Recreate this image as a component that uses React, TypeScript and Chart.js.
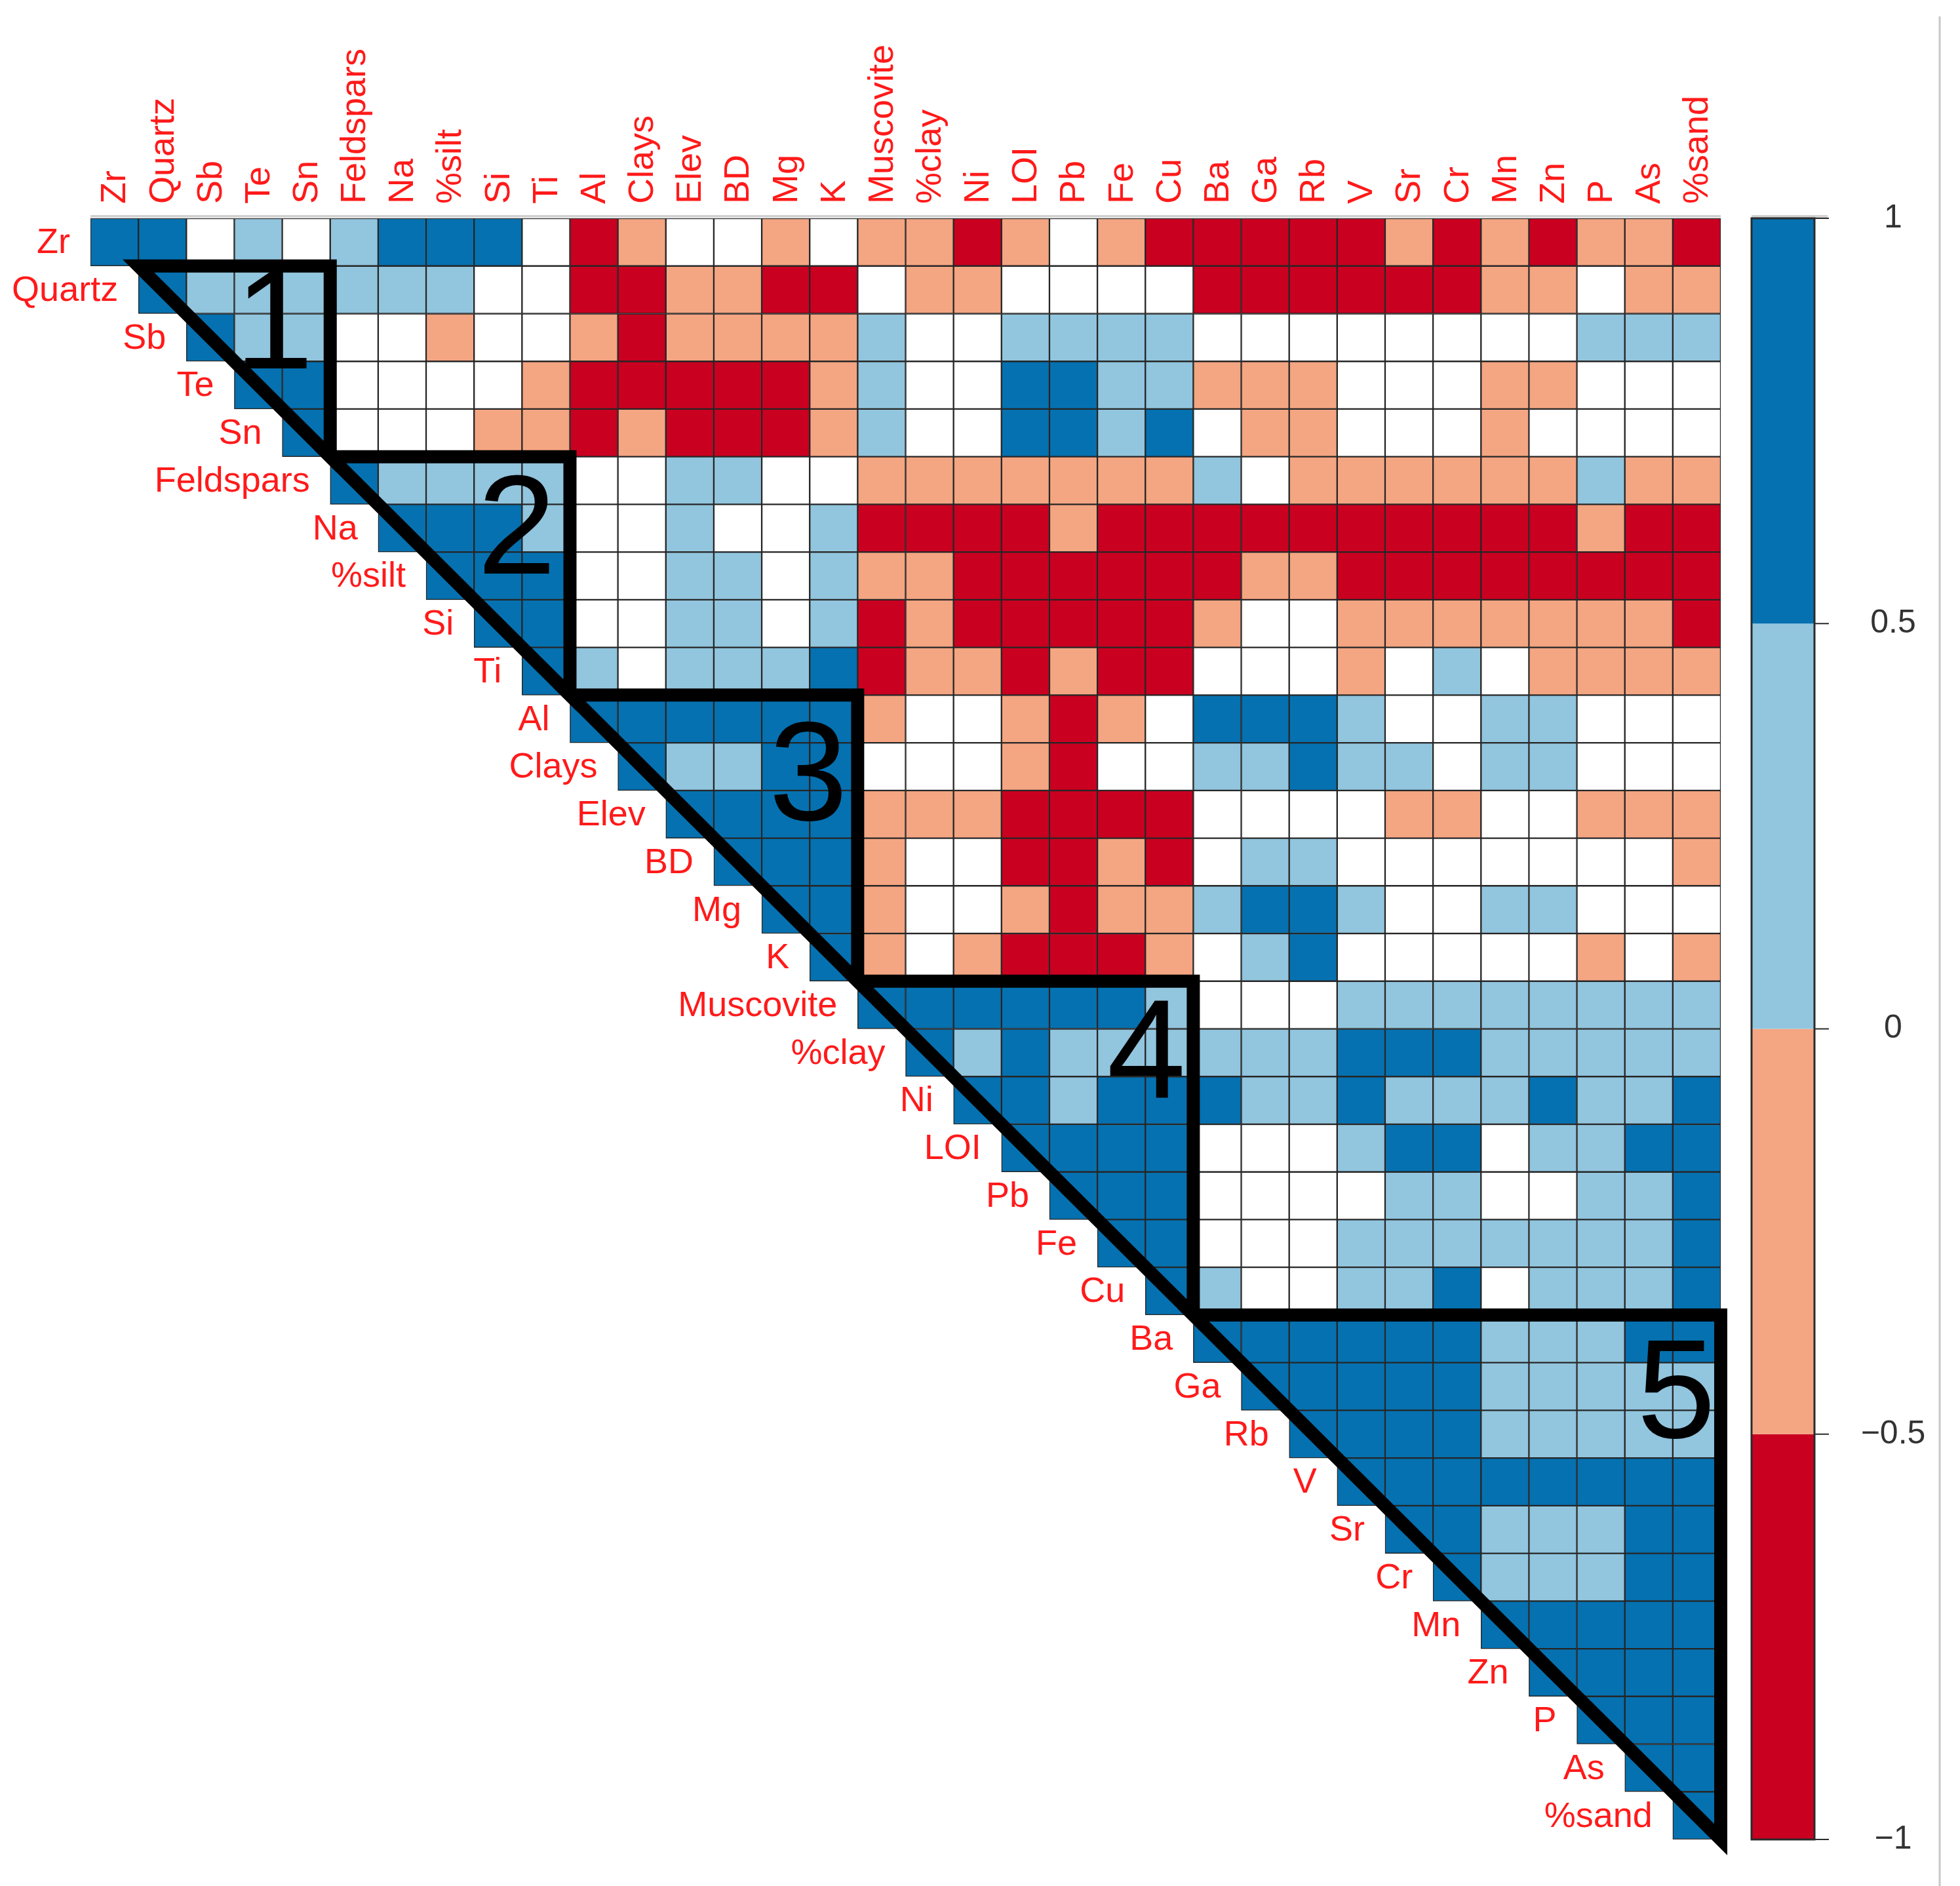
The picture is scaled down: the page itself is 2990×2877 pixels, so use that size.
import { useEffect, useRef } from 'react';
import { Chart, registerables } from 'chart.js';

Chart.register(...registerables);

// ---- data ----
const variables = [
  'Zr', 'Quartz', 'Sb', 'Te', 'Sn', 'Feldspars', 'Na', '%silt', 'Si', 'Ti',
  'Al', 'Clays', 'Elev', 'BD', 'Mg', 'K', 'Muscovite', '%clay', 'Ni', 'LOI',
  'Pb', 'Fe', 'Cu', 'Ba', 'Ga', 'Rb', 'V', 'Sr', 'Cr', 'Mn', 'Zn', 'P', 'As', '%sand',
];

// Correlation class of each upper-triangle row, starting at the diagonal.
// D: 0.5..1   L: 0..0.5   W: not significant   S: -0.5..0   R: -1..-0.5
const corrRows = [
  'DDWLWLDDDWRSWWSWS' + 'SRSWSRRRRRSRSRSSR',
  'DLLLLLLWWRRSSRRW' + 'SSWWWWRRRRRRSSWSS',
  'DLLWWSWWSRSSSSL' + 'WWLLLLWWWWWWWWLLL',
  'DDWWWWSRRRRRSL' + 'WWDDLLSSSWWWSSWWW',
  'DWWWSSRSRRRSL' + 'WWDDLDWSSWWWSWWWW',
  'DLLLLWWLLWWS' + 'SSSSSSLWSSSSSSLSS',
  'DDDLWWLWWLR' + 'RRRSRRRRRRRRRRSRR',
  'DDDWWLLWLS' + 'SRRRRRRSSRRRRRRRR',
  'DDWWLLWLR' + 'SRRRRRSWWSSSSSSSR',
  'DLWLLLDR' + 'SSRSRRWWWSWLWSSSS',
  'DDDDDDS' + 'WWSRSWDDDLWWLLWWW',
  'DLLDDW' + 'WWSRWWLLDLLWLLWWW',
  'DDDDS' + 'SSRRRRWWWWSSWWSSS',
  'DDDS' + 'WWRRSRWLLWWWWWWWS',
  'DDS' + 'WWSRSSLDDLWWLLWWW',
  'DS' + 'WSRRRSWLDWWWWWSWS',
  'D' + 'DDDDDLWWWLLLLLLLL',
  'DLDLLLLLLDDDLLLLL',
  'DDLDDDLLDLLLDLLD',
  'DDDDWWWLDDWLLDD',
  'DDDWWWWLLWWLLD',
  'DDWWWLLLLLLLD',
  'DLWWLLDWLLLD',
  'DDDDDDLLLDD',
  'DDDDDLLLLL',
  'DDDDLLLLL',
  'DDDDDDDD',
  'DDLLLDD',
  'DLLLDD',
  'DDDDD',
  'DDDD',
  'DDD',
  'DD',
  'D',
];

// cluster blocks (variable index where each block starts / ends)
const blockBounds = [1, 5, 10, 16, 23, 34];
const blockNames = ['1', '2', '3', '4', '5'];

// colour bar
const colorbarBreaks = [-1, -0.5, 0, 0.5, 1];
const colorbarTickLabels = ['\u22121', '\u22120.5', '0', '0.5', '1'];
const colorbarClasses = ['R', 'S', 'L', 'D'];

// ---- style ----
const classColor: Record<string, string> = {
  D: '#0571B0',
  L: '#92C5DE',
  W: '#FFFFFF',
  S: '#F4A582',
  R: '#CA0020',
};
const LABEL_FONT = '54px "Liberation Sans", Arial, sans-serif';
const LABEL_COLOR = '#FF1A1A';
// block number positions in grid units (column, row)
const blockNumberPos = [
  [3.83, 2.25],
  [8.89, 6.55],
  [14.97, 11.72],
  [22.02, 17.55],
  [33.07, 24.67],
];

const W = 2990;
const H = 2877;

const overlayPlugin = {
  id: 'corrOverlay',
  afterDatasetsDraw(chart: any) {
    const ctx: CanvasRenderingContext2D = chart.ctx;
    const xs = chart.scales.x;
    const ys = chart.scales.y;
    const cb = chart.scales.cb;
    const area = chart.chartArea;
    const step = xs.getPixelForValue(1) - xs.getPixelForValue(0);
    const gx = (c: number) => xs.getPixelForValue(0) - step / 2 + c * step;
    const gy = (r: number) => ys.getPixelForValue(r);

    ctx.save();

    // light frame line above grid and colour bar
    ctx.strokeStyle = '#d2d2d2';
    ctx.lineWidth = 4;
    ctx.beginPath();
    ctx.moveTo(area.left, area.top - 3);
    ctx.lineTo(area.right, area.top - 3);
    ctx.stroke();

    // block triangles
    ctx.strokeStyle = '#000';
    ctx.lineWidth = 20;
    ctx.lineJoin = 'miter';
    ctx.miterLimit = 10;
    for (let k = 0; k < blockBounds.length - 1; k++) {
      const a = blockBounds[k];
      const b = blockBounds[k + 1];
      ctx.beginPath();
      ctx.moveTo(gx(a), gy(a));
      ctx.lineTo(gx(b), gy(a));
      ctx.lineTo(gx(b), gy(b));
      ctx.closePath();
      ctx.stroke();
    }

    // block numbers
    ctx.fillStyle = '#000';
    ctx.font = '216px "Liberation Sans", Arial, sans-serif';
    ctx.textAlign = 'center';
    ctx.textBaseline = 'middle';
    blockNames.forEach((n, k) => {
      const [c, r] = blockNumberPos[k];
      ctx.fillText(n, gx(c), gy(r) + 6);
    });

    // row labels (along the diagonal)
    ctx.fillStyle = LABEL_COLOR;
    ctx.font = LABEL_FONT;
    ctx.textAlign = 'right';
    ctx.textBaseline = 'middle';
    variables.forEach((v, r) => {
      ctx.fillText(v, gx(r) - 31, gy(r + 0.5) + 2);
    });

    // column labels (top, vertical)
    ctx.textAlign = 'left';
    variables.forEach((v, c) => {
      ctx.save();
      ctx.translate(gx(c + 0.5) + 2, area.top - 22);
      ctx.rotate(-Math.PI / 2);
      ctx.fillText(v, 0, 0);
      ctx.restore();
    });

    // colour bar
    const cbLeft = area.right + 47;
    const cbRight = area.right + 143;
    for (let i = 0; i < colorbarClasses.length; i++) {
      const y0 = cb.getPixelForValue(colorbarBreaks[i + 1]);
      const y1 = cb.getPixelForValue(colorbarBreaks[i]);
      ctx.fillStyle = classColor[colorbarClasses[i]];
      ctx.fillRect(cbLeft, y0, cbRight - cbLeft, y1 - y0);
    }
    ctx.strokeStyle = '#d2d2d2';
    ctx.lineWidth = 4;
    ctx.beginPath();
    ctx.moveTo(cbLeft, cb.getPixelForValue(1) - 3);
    ctx.lineTo(cbRight + 20, cb.getPixelForValue(1) - 3);
    ctx.stroke();
    ctx.strokeStyle = '#2a2a2a';
    ctx.lineWidth = 3;
    ctx.strokeRect(
      cbLeft,
      cb.getPixelForValue(1),
      cbRight - cbLeft,
      cb.getPixelForValue(-1) - cb.getPixelForValue(1),
    );
    ctx.lineWidth = 2;
    ctx.fillStyle = '#333';
    ctx.font = '50px "Liberation Sans", Arial, sans-serif';
    ctx.textAlign = 'center';
    ctx.textBaseline = 'middle';
    colorbarBreaks.forEach((v, i) => {
      const y = cb.getPixelForValue(v);
      ctx.beginPath();
      ctx.moveTo(cbRight, y);
      ctx.lineTo(cbRight + 22, y);
      ctx.stroke();
      ctx.fillText(colorbarTickLabels[i], cbRight + 120, y);
    });

    // thin grey edge line on the right
    ctx.strokeStyle = '#c8c8c8';
    ctx.lineWidth = 3;
    ctx.beginPath();
    ctx.moveTo(area.right + 334, 25);
    ctx.lineTo(area.right + 334, H);
    ctx.stroke();

    ctx.restore();
  },
};

export default function App() {
  const canvasRef = useRef<HTMLCanvasElement | null>(null);

  useEffect(() => {
    const canvas = canvasRef.current;
    if (!canvas) return;

    const datasets = variables.map((name, r) => ({
      label: name,
      data: variables.map((_, c) => (c >= r ? [r, r + 1] : null)),
      backgroundColor: variables.map((_, c) =>
        c >= r ? classColor[corrRows[r][c - r]] : 'rgba(0,0,0,0)',
      ),
      borderColor: '#262626',
      borderWidth: 1.5,
      borderSkipped: false,
      grouped: false,
      barPercentage: 1,
      categoryPercentage: 1,
    }));

    const chart = new Chart(canvas, {
      type: 'bar',
      data: { labels: variables, datasets: datasets as any },
      options: {
        responsive: false,
        devicePixelRatio: 1,
        animation: false,
        layout: { padding: { left: 138, top: 333, right: W - 2625, bottom: H - 2806 } },
        plugins: {
          legend: { display: false },
          tooltip: { enabled: false },
        },
        scales: {
          x: { type: 'category', display: false, offset: true, grid: { display: false } },
          y: { type: 'linear', display: false, min: 0, max: 34, reverse: true },
          cb: { type: 'linear', axis: 'y', display: false, min: -1, max: 1 },
        },
      } as any,
      plugins: [overlayPlugin],
    });

    return () => chart.destroy();
  }, []);

  return (
    <div style={{ position: 'absolute', left: 0, top: 0, width: W, height: H, background: '#fff' }}>
      <canvas ref={canvasRef} width={W} height={H} style={{ display: 'block', width: W, height: H }} />
    </div>
  );
}
